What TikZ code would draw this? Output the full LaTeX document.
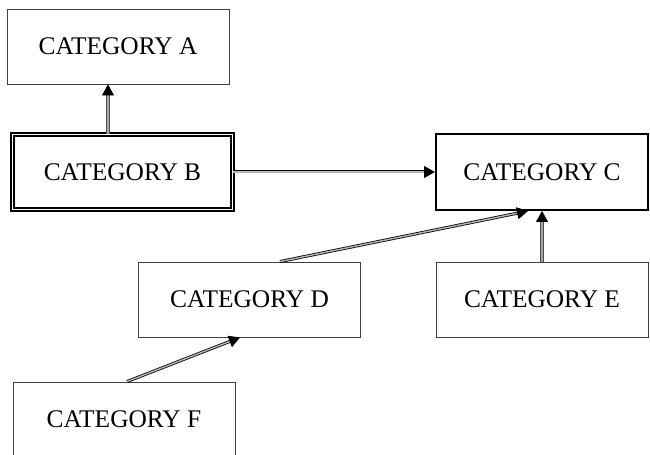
\documentclass[tikz,border=0pt]{standalone}
\usepackage{fontspec}
\setmainfont{Liberation Serif}
\usetikzlibrary{arrows.meta}
\begin{document}
\begin{tikzpicture}[x=1bp,y=-1bp,
  box/.style={draw=black!75, line width=0.9bp, rectangle, inner sep=0pt,
    minimum width=222bp, minimum height=75bp,
    font=\fontsize{25.5}{29}\selectfont},
  tip/.style={-{Triangle[length=11bp,width=12bp,color=black,fill=black]}},
  solidcon/.style={tip, draw=black!70, double=gray!70, double distance=1.6bp, line width=0.8bp},
  dblcon/.style={tip, draw=black, double=gray!55, double distance=1.4bp, line width=0.8bp}]
\useasboundingbox (0,0) rectangle (650,455);
\fill[white] (0,0) rectangle (650,455);
\node[box] (A) at (118,46.5) {CATEGORY A};
\node[box, draw=black, line width=1.3bp, double=white, double distance=1.8bp,
  minimum width=220bp, minimum height=75bp] (B) at (122.5,172) {CATEGORY B};
\node[box, draw=black, line width=2bp, minimum width=212bp, minimum height=76bp] (C) at (542,172) {CATEGORY C};
\node[box] (D) at (249.5,299.5) {CATEGORY D};
\node[box, minimum width=212bp] (E) at (542,299.5) {CATEGORY E};
\node[box] (F) at (124,419.5) {CATEGORY F};
\draw[solidcon] ([xshift=-14.5bp]B.north) -- ([xshift=-14.5bp]B.north |- A.south);
\draw[dblcon] (B.east) -- (C.west);
\draw[dblcon] ([xshift=30.5bp]D.north) -- ([xshift=-14bp]C.south);
\draw[solidcon] (E.north) -- (C.south);
\draw[dblcon] ([xshift=3bp]F.north) -- ([xshift=-9.5bp]D.south);
\end{tikzpicture}
\end{document}
